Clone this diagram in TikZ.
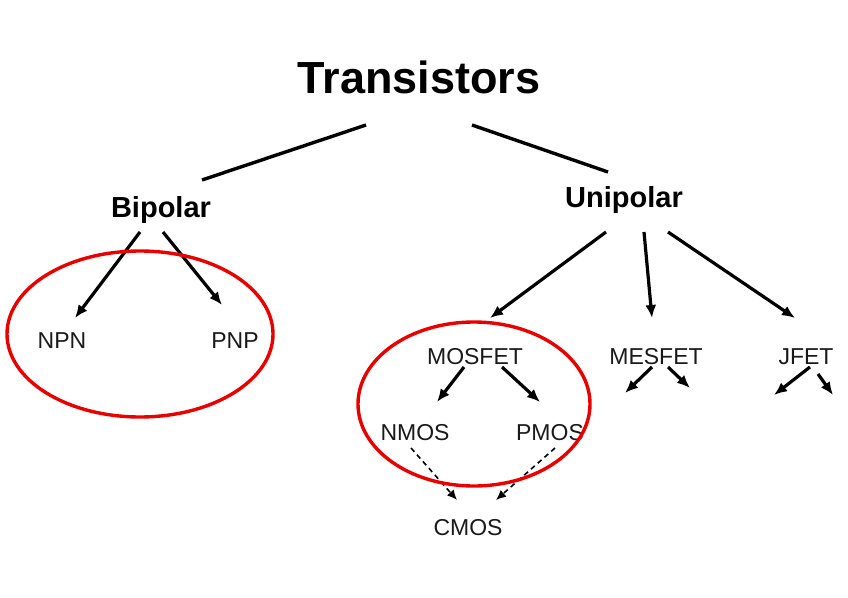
\documentclass[tikz,border=0pt]{standalone}
\usepackage{fontspec}
\setmainfont{Liberation Sans}
\definecolor{groupred}{RGB}{235, 0, 0}
\definecolor{leafgray}{RGB}{25, 25, 25}
\usetikzlibrary{arrows.meta}

\begin{document}
\begin{tikzpicture}[
  x=1pt, y=-1pt,
  top/.style={anchor=base, inner sep=0pt, font=\fontsize{45}{50}\selectfont\bfseries},
  kind/.style={anchor=base, inner sep=0pt, font=\fontsize{29}{33}\selectfont\bfseries},
  leaf/.style={anchor=base, inner sep=0pt, text=leafgray, font=\fontsize{23}{27}\selectfont},
  link/.style={line width=3.4pt},
  arr/.style={line width=3.2pt, -{Latex[length=13pt, width=11pt]}},
  derive/.style={line width=1.6pt, dash pattern=on 5pt off 4pt, -{Latex[length=10pt, width=9pt]}},
  group/.style={draw=groupred, line width=3.4pt}
]
  \useasboundingbox (0,0) rectangle (848,597);

  \node[top] (trans) at (419, 93) {Transistors};
  \node[kind] (bip) at (161, 217) {Bipolar};
  \node[kind] (uni) at (624, 207) {Unipolar};

  \node[leaf] (npn) at (62, 348) {NPN};
  \node[leaf] (pnp) at (235, 348) {PNP};
  \node[leaf] (mosfet) at (475, 364) {MOSFET};
  \node[leaf] (mesfet) at (656, 364) {MESFET};
  \node[leaf] (jfet) at (806, 364) {JFET};
  \node[leaf] (nmos) at (415, 440) {NMOS};
  \node[leaf] (pmos) at (550, 440) {PMOS};
  \node[leaf] (cmos) at (468, 535) {CMOS};

  \coordinate (mesL) at (625, 393);
  \coordinate (mesR) at (690, 388);
  \coordinate (jfetL) at (774, 395);
  \coordinate (jfetR) at (833, 395);

  % top level
  \draw[link] ([shift={(-53,32)}]trans.base) -- ([shift={(41,-37)}]bip.base);
  \draw[link] ([shift={(53,32)}]trans.base) -- ([shift={(-16,-35)}]uni.base);

  % bipolar
  \draw[arr] ([shift={(-21,15)}]bip.base) -- ([shift={(13,-30)}]npn.base);
  \draw[arr] ([shift={(2,15)}]bip.base) -- ([shift={(-13,-43)}]pnp.base);

  % unipolar
  \draw[arr] ([shift={(-18,25)}]uni.base) -- ([shift={(15,-46)}]mosfet.base);
  \draw[arr] ([shift={(20,25)}]uni.base) -- ([shift={(-4,-46)}]mesfet.base);
  \draw[arr] ([shift={(44,25)}]uni.base) -- ([shift={(-11,-46)}]jfet.base);

  \draw[arr] ([shift={(-11,3)}]mosfet.base) -- ([shift={(22,-38)}]nmos.base);
  \draw[arr] ([shift={(27,3)}]mosfet.base) -- ([shift={(-10,-38)}]pmos.base);
  \draw[arr] ([shift={(-4,3)}]mesfet.base) -- (mesL);
  \draw[arr] ([shift={(12,3)}]mesfet.base) -- (mesR);
  \draw[arr] ([shift={(4,3)}]jfet.base) -- (jfetL);
  \draw[arr] ([shift={(12,10)}]jfet.base) -- (jfetR);

  \draw[derive] ([shift={(-4,8)}]nmos.base) -- ([shift={(-11,-35)}]cmos.base);
  \draw[derive] ([shift={(5,8)}]pmos.base) -- ([shift={(28,-35)}]cmos.base);

  \draw[group] (140, 334) ellipse [x radius=133pt, y radius=83pt];
  \draw[group] (474, 404) ellipse [x radius=116pt, y radius=82pt];
\end{tikzpicture}
\end{document}
